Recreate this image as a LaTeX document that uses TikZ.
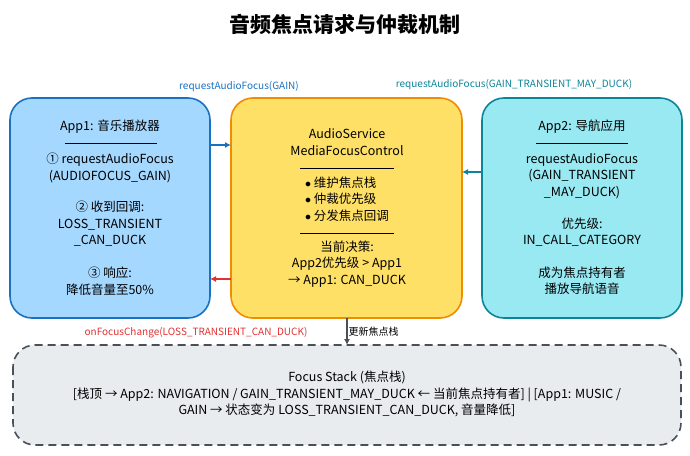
\documentclass[tikz,border=0pt]{standalone}
\usepackage{fontspec}
\setmainfont{Noto Sans CJK SC}
\usetikzlibrary{arrows.meta,positioning}
\definecolor{appblue}{HTML}{1971C2}
\definecolor{appbluefill}{HTML}{A5D8FF}
\definecolor{svcorange}{HTML}{F08C00}
\definecolor{svcfill}{HTML}{FFE066}
\definecolor{appteal}{HTML}{0C8599}
\definecolor{apptealfill}{HTML}{99E9F2}
\definecolor{stackgray}{HTML}{495057}
\definecolor{stackfill}{HTML}{E9ECEF}
\definecolor{callred}{HTML}{E03131}
\tikzset{%
    panel/.style={%
        draw, line width=1.6pt, rounded corners=22pt
    },
    txt/.style={%
        align=center, font=\fontsize{12.5}{16.5}\selectfont, inner sep=0pt
    },
    lbl/.style={%
        font=\fontsize{10}{12}\selectfont, inner sep=1pt
    },
    com/.style={%
        -{Latex[length=6pt,width=6pt]}, line width=1.4pt
    },
    rule/.style={%
        line width=0.8pt
    },
}
\begin{document}
\begin{tikzpicture}[x=1pt,y=-1pt]
      \useasboundingbox (0,0) rectangle (690,455);
      \node[font=\fontsize{21}{24}\selectfont\bfseries] (title) at (345,24) {音频焦点请求与仲裁机制};

      % three panels
      \draw[panel, appblue, fill=appbluefill] (10,98) rectangle (210,318);
      \draw[panel, svcorange, fill=svcfill] (231,98) rectangle (462,318);
      \draw[panel, appteal, fill=apptealfill] (482,98) rectangle (682,318);
      \draw[panel, stackgray, fill=stackfill, dashed, dash pattern=on 8pt off 5pt] (13,345) rectangle (681,445);

      % App1
      \node[txt] (a1title) at (110,127) {App1: 音乐播放器};
      \draw[rule] (65,143) -- (157,143);
      \node[txt] (a1req) at (110,168) {① requestAudioFocus\\(AUDIOFOCUS\_GAIN)};
      \node[txt] (a1cb) at (110,224) {② 收到回调:\\LOSS\_TRANSIENT\\\_CAN\_DUCK};
      \node[txt] (a1resp) at (110,281) {③ 响应:\\降低音量至50\%};

      % AudioService
      \node[txt] (svctitle) at (347,142) {AudioService\\MediaFocusControl};
      \draw[rule] (300,168) -- (394,168);
      \node[txt, align=left] (svcduty) at (347,199) {$\bullet$ 维护焦点栈\\$\bullet$ 仲裁优先级\\$\bullet$ 分发焦点回调};
      \draw[rule] (300,233) -- (394,233);
      \node[txt] (svcdec) at (347,264) {当前决策:\\App2优先级 > App1\\→ App1: CAN\_DUCK};

      % App2
      \node[txt] (a2title) at (582,127) {App2: 导航应用};
      \draw[rule] (536,143) -- (628,143);
      \node[txt] (a2req) at (582,176) {requestAudioFocus\\(GAIN\_TRANSIENT\\\_MAY\_DUCK)};
      \node[txt] (a2prio) at (582,232) {优先级:\\IN\_CALL\_CATEGORY};
      \node[txt] (a2own) at (582,281) {成为焦点持有者\\播放导航语音};

      % Focus stack
      \node[txt] (stack) at (347,394) {Focus Stack (焦点栈)\\{}[栈顶 → App2: NAVIGATION / GAIN\_TRANSIENT\_MAY\_DUCK ← 当前焦点持有者] | [App1: MUSIC /\\GAIN → 状态变为 LOSS\_TRANSIENT\_CAN\_DUCK, 音量降低]};

      % connectors
      \coordinate (p1) at (210,145);
      \coordinate (p2) at (231,145);
      \coordinate (p3) at (482,172);
      \coordinate (p4) at (462,172);
      \coordinate (p5) at (231,279);
      \coordinate (p6) at (210,279);
      \coordinate (p7) at (347,318);
      \coordinate (p8) at (347,345);
      \draw[com, appblue] (p1) -- (p2);
      \draw[com, appteal] (p3) -- (p4);
      \draw[com, callred] (p5) -- (p6);
      \draw[com, stackgray] (p7) -- (p8) node[midway, right, lbl, black] {更新焦点栈};

      \node[lbl, appblue] (reqgain) at (239,87) {requestAudioFocus(GAIN)};
      \node[lbl, appteal] (reqduck) at (514,85) {requestAudioFocus(GAIN\_TRANSIENT\_MAY\_DUCK)};
      \node[lbl, callred] (onchange) at (196,333) {onFocusChange(LOSS\_TRANSIENT\_CAN\_DUCK)};
    \end{tikzpicture}
\end{document}
